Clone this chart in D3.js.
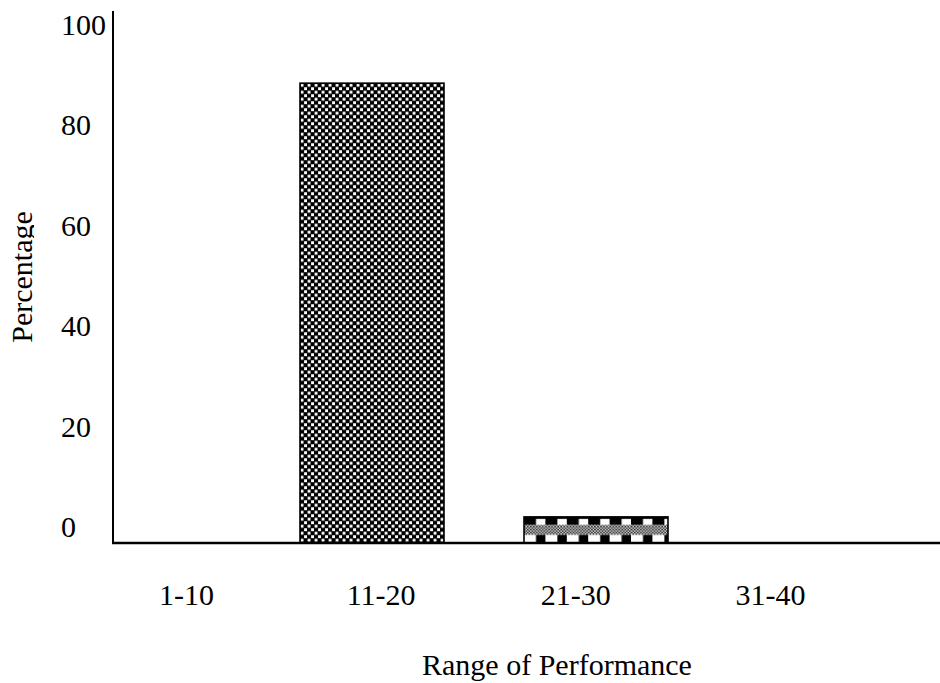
<!DOCTYPE html>
<html>
<head>
<meta charset="utf-8">
<script src="https://cdn.jsdelivr.net/npm/d3@7"></script>
<style>
  html, body { margin: 0; padding: 0; background: #fff; }
  svg { display: block; }
  text { font-family: "Liberation Serif", "Times New Roman", serif; fill: #000; }
</style>
</head>
<body>
<svg id="chart" width="940" height="683"></svg>
<script>
// ---- data ----
const categories = ["1-10", "11-20", "21-30", "31-40"];
const values = [0, 91.6, 5.2, 0];
const yTicks = [0, 20, 40, 60, 80, 100];
const xTitle = "Range of Performance";
const yTitle = "Percentage";

const svg = d3.select("#chart");
const defs = svg.append("defs");

// fine checker used by bar 2 middle band
const fine = defs.append("pattern").attr("id", "fine")
  .attr("patternUnits", "userSpaceOnUse").attr("width", 3).attr("height", 3);
fine.append("rect").attr("width", 3).attr("height", 3).attr("fill", "#fff");
fine.append("rect").attr("width", 1.5).attr("height", 1.5).attr("fill", "#000");
fine.append("rect").attr("x", 1.5).attr("y", 1.5).attr("width", 1.5).attr("height", 1.5).attr("fill", "#000");

// scales
const y = d3.scaleLinear().domain([0, 100]).range([543, 41]);
const x = d3.scaleBand().domain(categories).range([76, 892]).paddingInner(80 / 224).paddingOuter(0);
const xLab = d3.scalePoint().domain(categories).range([186, 770]);

// checkerboard pattern for bar 1
const p1 = defs.append("pattern").attr("id", "p1")
  .attr("patternUnits", "userSpaceOnUse").attr("width", 7).attr("height", 7)
  .attr("x", x(categories[1])).attr("y", y(values[1]));
p1.append("rect").attr("width", 7).attr("height", 7).attr("fill", "#000");
p1.append("rect").attr("x", 0.6).attr("y", 0.6).attr("width", 2.9).attr("height", 2.9).attr("fill", "#fff");
p1.append("rect").attr("x", 4.1).attr("y", 4.1).attr("width", 2.9).attr("height", 2.9).attr("fill", "#fff");

// large checker pattern for bar 2
const bh2 = y(0) - y(values[2]);
const p2 = defs.append("pattern").attr("id", "p2")
  .attr("patternUnits", "userSpaceOnUse").attr("width", 21.4).attr("height", bh2)
  .attr("x", x(categories[2])).attr("y", y(values[2]));
p2.append("rect").attr("width", 21.4).attr("height", bh2).attr("fill", "#fff");
p2.append("rect").attr("width", 21.4).attr("height", bh2 * 0.31).attr("fill", "#000");
p2.append("rect").attr("x", 12).attr("y", 2).attr("width", 9.4).attr("height", bh2 * 0.31 - 2).attr("fill", "#fff");
p2.append("rect").attr("y", bh2 * 0.31).attr("width", 21.4).attr("height", bh2 * 0.38).attr("fill", "url(#fine)");
p2.append("rect").attr("x", 12).attr("y", bh2 * 0.69).attr("width", 9.4).attr("height", bh2 * 0.31).attr("fill", "#000");

const fills = ["none", "url(#p1)", "url(#p2)", "none"];

// bars
svg.append("g").selectAll("rect")
  .data(categories.map((c, i) => ({ c, v: values[i], f: fills[i] })).filter(d => d.v > 0))
  .join("rect")
  .attr("x", d => x(d.c))
  .attr("y", d => y(d.v))
  .attr("width", x.bandwidth())
  .attr("height", d => y(0) - y(d.v))
  .attr("fill", d => d.f)
  .attr("stroke", "#000")
  .attr("stroke-width", 1.6);

// axes lines
svg.append("line").attr("x1", 113).attr("x2", 113).attr("y1", 11).attr("y2", y(0))
  .attr("stroke", "#000").attr("stroke-width", 2);
svg.append("line").attr("x1", 112).attr("x2", 940).attr("y1", y(0)).attr("y2", y(0))
  .attr("stroke", "#000").attr("stroke-width", 2.5);

// y tick labels (left aligned)
svg.append("g").selectAll("text")
  .data(yTicks).join("text")
  .attr("x", 61)
  .attr("y", d => y(d) - 6)
  .attr("font-size", 30)
  .text(d => d);

// x tick labels
const xAxis = d3.axisBottom(xLab).tickSize(0).tickPadding(0);
const gx = svg.append("g").attr("transform", "translate(0,583)").call(xAxis);
gx.select(".domain").remove();
gx.selectAll("text")
  .attr("font-size", 30)
  .attr("font-family", "Liberation Serif, Times New Roman, serif")
  .attr("fill", "#000")
  .attr("dy", "0.73em");

// titles
svg.append("text").attr("x", 557).attr("y", 675).attr("text-anchor", "middle")
  .attr("font-size", 30).text(xTitle);

defs.append("clipPath").attr("id", "yclip")
  .append("rect").attr("x", 0).attr("y", 0).attr("width", 34).attr("height", 683);
svg.append("g").attr("clip-path", "url(#yclip)")
  .append("text")
  .attr("transform", "translate(32,277) rotate(-90)")
  .attr("text-anchor", "middle")
  .attr("font-size", 30).text(yTitle);
</script>
</body>
</html>
